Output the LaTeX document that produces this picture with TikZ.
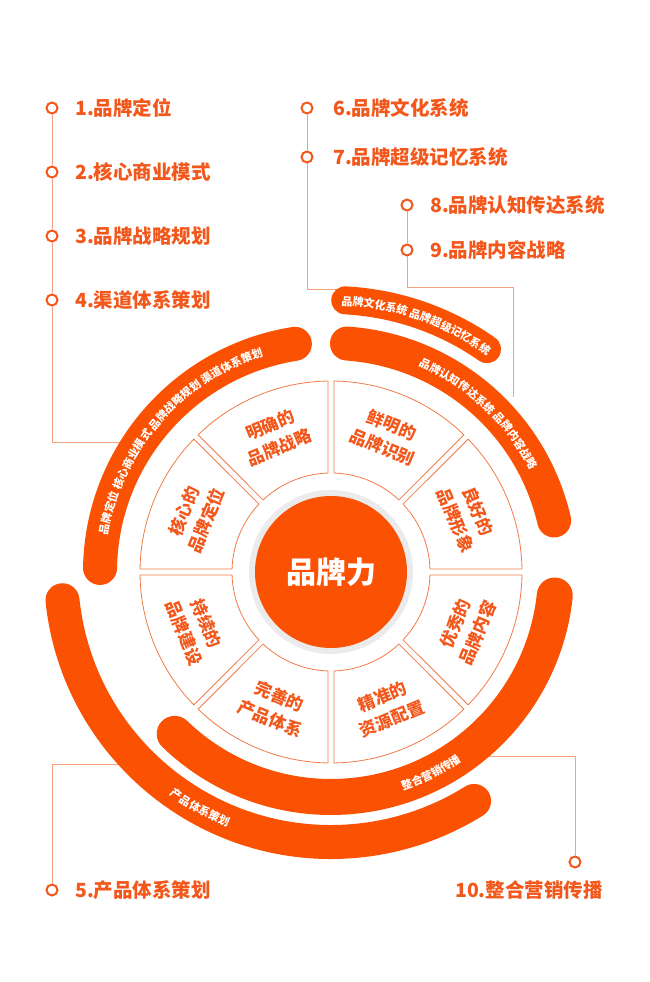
\documentclass[tikz,border=0pt]{standalone}
\usepackage{fontspec}
\setmainfont{Noto Sans CJK SC}
\usetikzlibrary{decorations.text}
\definecolor{org}{HTML}{FA5103}
\definecolor{otxt}{HTML}{F2571B}
\definecolor{oline}{HTML}{F4A27C}
\definecolor{oseg}{HTML}{F07A45}
\begin{document}
\begin{tikzpicture}[x=1pt,y=1pt,
  item/.style={font=\fontsize{19.5}{19.5}\selectfont\bfseries, text=otxt, anchor=west, inner sep=0},
  dot/.style={circle, draw=otxt, line width=2, fill=white, minimum size=11, inner sep=0},
  conn/.style={draw=oline, line width=1},
  band/.style={draw=org, line cap=round},
  seg/.style={draw=oseg, line width=0.8, fill=white},
  seglab/.style={font=\fontsize{17}{24}\selectfont\bfseries, text=otxt, align=center},
  arctext/.style={decorate, decoration={text along path, text align=center,
     text={|\fontsize{11}{11}\selectfont\bfseries\color{white}|#1}}}
]
\useasboundingbox (0,0) rectangle (650,982);
\fill[white] (0,0) rectangle (650,982);
\coordinate (C) at (331,410);

% list items
\node[dot] (d1) at (52,874) {}; \node[item] (t1) at (75,874) {1.品牌定位};
\node[dot] (d2) at (52,810) {}; \node[item] (t2) at (75,810) {2.核心商业模式};
\node[dot] (d3) at (52,746) {}; \node[item] (t3) at (75,746) {3.品牌战略规划};
\node[dot] (d4) at (52,682) {}; \node[item] (t4) at (75,682) {4.渠道体系策划};
\node[dot] (d6) at (307,874) {}; \node[item] (t6) at (333,874) {6.品牌文化系统};
\node[dot] (d7) at (307,825) {}; \node[item] (t7) at (333,825) {7.品牌超级记忆系统};
\node[dot] (d8) at (407,777) {}; \node[item] (t8) at (430,777) {8.品牌认知传达系统};
\node[dot] (d9) at (407,732) {}; \node[item] (t9) at (430,732) {9.品牌内容战略};
\node[dot] (d5) at (52,92) {}; \node[item] (t5) at (75,92) {5.产品体系策划};
\node[dot] (d10) at (575,120) {}; \node[item] (t10) at (455,92) {10.整合营销传播};

% connector end points
\coordinate (e4a) at (52,539); \coordinate (e4) at (124,539);
\coordinate (e7a) at (307,692); \coordinate (e7) at (345,692);
\coordinate (e9a) at (407,694); \coordinate (e9b) at (513,694); \coordinate (e9) at (513,585);
\coordinate (e5a) at (52,217); \coordinate (e5) at (128,217);
\coordinate (e10a) at (575,225); \coordinate (e10) at (488,225);

\draw[conn] (d1) -- (d2); \draw[conn] (d2) -- (d3); \draw[conn] (d3) -- (d4);
\draw[conn] (d4) -- (e4a) -- (e4);
\draw[conn] (d6) -- (d7); \draw[conn] (d7) -- (e7a) -- (e7);
\draw[conn] (d8) -- (d9); \draw[conn] (d9) -- (e9a) -- (e9b) -- (e9);
\draw[conn] (d5) -- (e5a) -- (e5);
\draw[conn] (d10) -- (e10a) -- (e10);

\begin{scope}[shift={(C)}]
% bands
\draw[band, line width=34] (179:231) arc[start angle=179, end angle=99, radius=231];
\draw[band, line width=28] (87:272) arc[start angle=87, end angle=55, radius=272];
\draw[band, line width=34] (86:229) arc[start angle=86, end angle=13, radius=229];
\draw[band, line width=34] (186:270) arc[start angle=186, end angle=302, radius=270];
\draw[white, line width=42] (228:225) arc[start angle=228, end angle=300, radius=225];
\draw[band, line width=36] (226:225) arc[start angle=226, end angle=354, radius=225];
% band texts
\path[arctext={品牌定位 核心商业模式 品牌战略规划 渠道体系策划}] (178:226) arc[start angle=178, end angle=100, radius=226];
\path[arctext={品牌文化系统 品牌超级记忆系统}] (88:267) arc[start angle=88, end angle=54, radius=267];
\path[arctext={品牌认知传达系统 品牌内容战略}] (72:224) arc[start angle=72, end angle=22, radius=224];
\path[arctext={产品体系策划}] (226:275) arc[start angle=226, end angle=256, radius=275];
\path[arctext={整合营销传播}] (281:230) arc[start angle=281, end angle=312, radius=230];
% segments
\foreach \i in {0,...,7}{
  \pgfmathsetmacro{\a}{45*\i}
  \pgfmathsetmacro{\b}{45*\i+45}
  \draw[seg] (\a+0.9:191) arc[start angle=\a+0.9, end angle=\b-0.9, radius=191]
     -- (\b-1.7:99) arc[start angle=\b-1.7, end angle=\a+1.7, radius=99] -- cycle;
}
\node[seglab, rotate=-67.5] (s1) at (22.5:147) {良好的\\品牌形象};
\node[seglab, rotate=-22.5] (s2) at (67.5:147) {鲜明的\\品牌识别};
\node[seglab, rotate=22.5] (s3) at (112.5:147) {明确的\\品牌战略};
\node[seglab, rotate=67.5] (s4) at (157.5:147) {核心的\\品牌定位};
\node[seglab, rotate=-67.5] (s5) at (202.5:147) {持续的\\品牌建设};
\node[seglab, rotate=-22.5] (s6) at (247.5:147) {完善的\\产品体系};
\node[seglab, rotate=22.5] (s7) at (292.5:147) {精准的\\资源配置};
\node[seglab, rotate=67.5] (s8) at (337.5:147) {优秀的\\品牌内容};
% centre
\fill[black!8] (0,0) circle[radius=82];
\node[circle, fill=org, minimum size=152, inner sep=0, text=white,
  font=\fontsize{30}{30}\selectfont\bfseries] (core) at (0,0) {品牌力};
\end{scope}
\end{tikzpicture}
\end{document}
